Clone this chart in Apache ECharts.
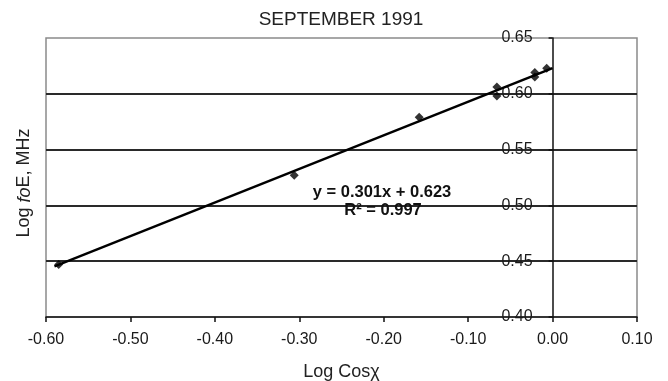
<!DOCTYPE html>
<html>
<head>
<meta charset="utf-8">
<script src="https://cdn.jsdelivr.net/npm/echarts@6/dist/echarts.min.js"></script>
<style>html,body{margin:0;padding:0;background:#fff}#c{width:668px;height:381px}</style>
</head>
<body>
<div id="c"></div>
<script>
// Data
var logCosChi = [-0.585, -0.306, -0.158, -0.066, -0.066, -0.021, -0.021, -0.007];
var logFoE    = [0.447, 0.527, 0.579, 0.606, 0.598, 0.619, 0.615, 0.623];
var trendSlope = [0.301];
var trendIntercept = [0.623];
var trendRange = [-0.59, 0.0];
var titleText = 'SEPTEMBER 1991';
var xName = 'Log Cosχ';
var equationLines = ['y = 0.301x + 0.623', 'R² = 0.997'];

var FONT = '"Liberation Sans", Arial, sans-serif';
var points = logCosChi.map(function (x, i) { return [x, logFoE[i]]; });
var trend = trendRange.map(function (x) { return [x, trendSlope[0] * x + trendIntercept[0]]; });

var W = 668, GL = 46, GR = 31;
var xMin = -0.6, xMax = 0.1;
// shift the y axis (line, ticks, labels) so that it sits at x = 0
var yAxisOffset = -(W - GL - GR) * (0 - xMin) / (xMax - xMin);

var chart = echarts.init(document.getElementById('c'));
chart.setOption({
  animation: false,
  backgroundColor: '#fff',
  grid: { left: GL, right: GR, top: 38, bottom: 64, containLabel: false, outerBoundsMode: 'none',
    show: true, borderColor: '#8a8a8a', borderWidth: 1.5, backgroundColor: 'transparent' },
  xAxis: {
    type: 'value', min: xMin, max: xMax, interval: 0.1,
    name: xName, nameLocation: 'middle', nameGap: 46,
    nameTextStyle: { fontFamily: FONT, fontSize: 18, color: '#222' },
    axisLine: { onZero: false, lineStyle: { color: '#111', width: 1.5 } },
    axisTick: { show: true, length: 5, lineStyle: { color: '#111', width: 1.5 } },
    axisLabel: { margin: 15, fontFamily: FONT, fontSize: 16, color: '#1a1a1a',
      formatter: function (v) { return v.toFixed(2); } },
    splitLine: { show: false }
  },
  yAxis: {
    type: 'value', min: 0.4, max: 0.65, interval: 0.05,
    position: 'left', offset: yAxisOffset,
    axisLine: { onZero: false, lineStyle: { color: '#111', width: 1.5 } },
    axisTick: { show: true, length: 4, lineStyle: { color: '#111', width: 1.5 } },
    axisLabel: { margin: 20, fontFamily: FONT, fontSize: 16, color: '#1a1a1a',
      formatter: function (v) { return v.toFixed(2); } },
    splitLine: { show: true, showMinLine: false, showMaxLine: false, lineStyle: { color: '#2a2a2a', width: 2 } }
  },
  series: [
    { type: 'line', data: trend, symbol: 'none', lineStyle: { color: '#000', width: 2.5 }, z: 3 },
    { type: 'scatter', data: points, symbol: 'diamond', symbolSize: 9, itemStyle: { color: '#000' }, z: 4 }
  ],
  graphic: [
    { type: 'text', x: 341, y: 20, z: 10,
      style: { text: titleText, font: '19px ' + FONT, fill: '#222', textAlign: 'center', textVerticalAlign: 'middle' } },
    { type: 'text', x: 24.5, y: 183, rotation: Math.PI / 2, z: 10,
      style: { text: 'Log {i|fo}E, MHz', font: '18px ' + FONT, fill: '#222', textAlign: 'center', textVerticalAlign: 'middle',
        rich: { i: { fontStyle: 'italic', fontFamily: FONT, fontSize: 18, fill: '#222' } } } },
    { type: 'text', x: 382, y: 192, z: 10,
      style: { text: equationLines[0], font: 'bold 16.5px ' + FONT, fill: '#111', textAlign: 'center', textVerticalAlign: 'middle' } },
    { type: 'text', x: 383, y: 210, z: 10,
      style: { text: equationLines[1], font: 'bold 16.5px ' + FONT, fill: '#111', textAlign: 'center', textVerticalAlign: 'middle' } }
  ]
});
</script>
</body>
</html>
